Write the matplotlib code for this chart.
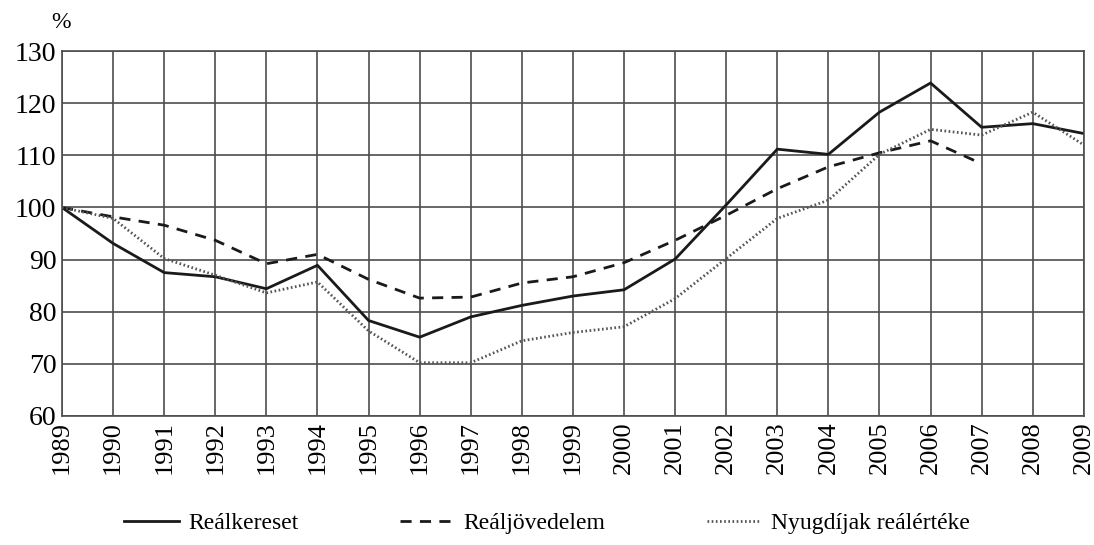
import matplotlib
matplotlib.use("Agg")
import matplotlib.pyplot as plt

# adatok
years = list(range(1989, 2010))
realkereset = [100, 93.1, 87.5, 86.7, 84.4, 88.9, 78.3, 75.1, 79.0, 81.2, 83.0,
               84.2, 90.1, 100.5, 111.2, 110.2, 118.3, 123.9, 115.4, 116.1, 114.2]
realjovedelem = [100, 98.2, 96.6, 93.7, 89.2, 91.0, 86.2, 82.6, 82.8, 85.5, 86.7,
                 89.4, 93.7, 98.5, 103.6, 107.8, 110.5, 112.8, 108.4]
nyugdijak = [100, 97.9, 90.2, 87.0, 83.6, 85.7, 76.3, 70.2, 70.2, 74.4, 76.0,
             77.1, 82.5, 90.2, 97.9, 101.4, 110.2, 115.0, 113.9, 118.3, 112.0]
labels = ["Reálkereset", "Reáljövedelem", "Nyugdíjak reálértéke"]

plt.rcParams["font.family"] = ["Liberation Serif", "DejaVu Serif"]

fig = plt.figure(figsize=(10.94, 5.45), dpi=100)
ax = fig.add_axes([0.0567, 0.237, 0.934, 0.669])

ax.plot(years, realkereset, color="#1a1a1a", lw=2.0, label=labels[0])
ax.plot(years[:len(realjovedelem)], realjovedelem, color="#1a1a1a", lw=2.0,
        ls=(0, (4, 3)), label=labels[1])
ax.plot(years, nyugdijak, color="#555555", lw=2.0, ls=(0, (0.6, 0.9)),
        label=labels[2])

ax.set_xlim(1989, 2009)
ax.set_ylim(60, 130)
ax.set_xticks(years)
ax.set_xticklabels([str(y) for y in years], rotation=90, fontsize=19)
ax.set_yticks(range(60, 131, 10))
ax.tick_params(axis="y", labelsize=20)
ax.tick_params(length=0, pad=4)
ax.grid(True, color="#4d4d4d", lw=1.2)
ax.set_axisbelow(True)
for s in ax.spines.values():
    s.set_color("#4d4d4d")
    s.set_linewidth(1.2)

fig.text(0.047, 0.958, "%", fontsize=17, ha="left", va="center")

fig.legend(loc="center", bbox_to_anchor=(0.5, 0.04), ncol=3, frameon=False,
           fontsize=17, handlelength=2.3, columnspacing=4.3, handletextpad=0.4)

fig.savefig("out.png", dpi=100)
